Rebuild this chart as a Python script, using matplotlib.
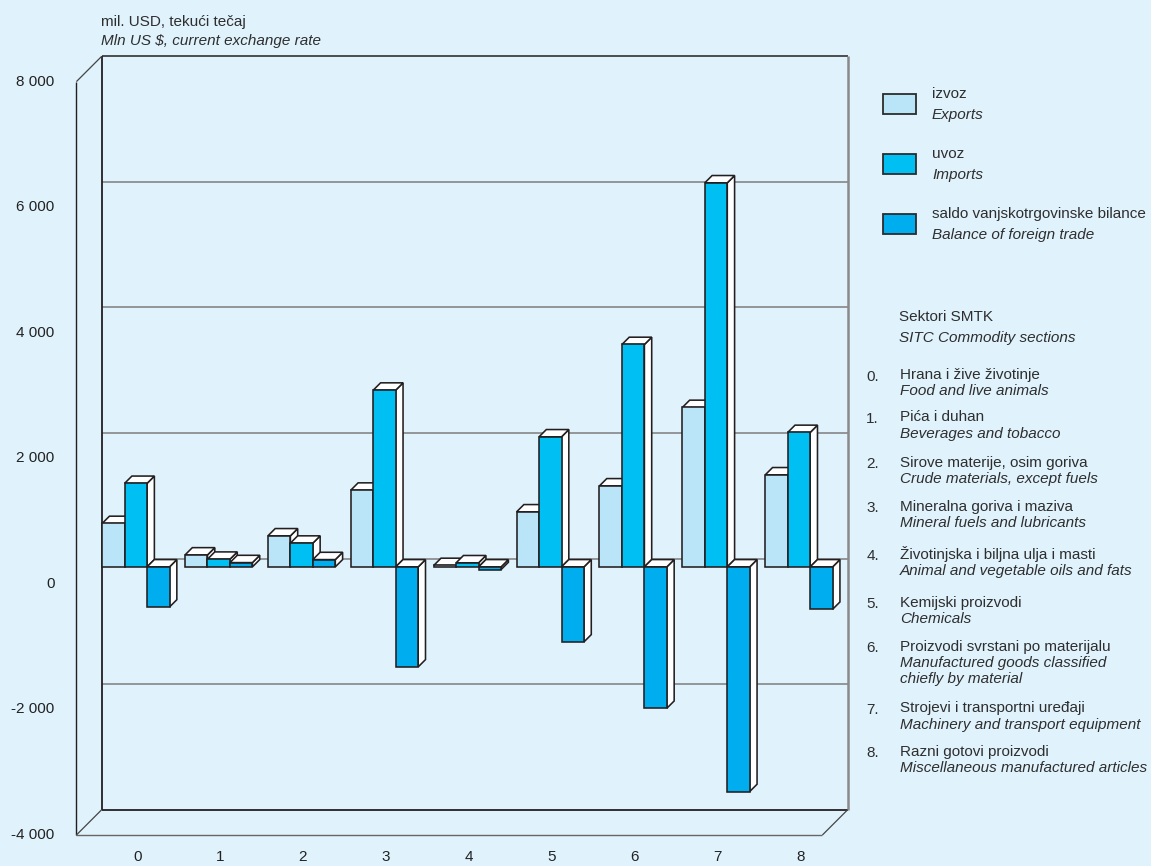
import matplotlib
matplotlib.use("Agg")
import matplotlib.pyplot as plt
from matplotlib.patches import Polygon, Rectangle

plt.rcParams['font.family'] = ['Liberation Sans', 'DejaVu Sans']

# data (mil. USD)
sections = ['0', '1', '2', '3', '4', '5', '6', '7', '8']
exports = [691, 190, 494, 1222, 22, 876, 1290, 2539, 1466]
imports = [1330, 122, 378, 2815, 65, 2071, 3542, 6117, 2141]
balance = [-639, 68, 116, -1593, -43, -1195, -2252, -3578, -675]
yticks = [8000, 6000, 4000, 2000, 0, -2000, -4000]
ytick_labels = ['8 000', '6 000', '4 000', '2 000', '0', '-2 000', '-4 000']
grid_vals = [6000, 4000, 2000, 0, -2000]

legend_hr = ['izvoz', 'uvoz', 'saldo vanjskotrgovinske bilance']
legend_en = ['Exports', 'Imports', 'Balance of foreign trade']
sector_hr = ['Hrana i žive životinje', 'Pića i duhan', 'Sirove materije, osim goriva',
             'Mineralna goriva i maziva', 'Životinjska i biljna ulja i masti',
             'Kemijski proizvodi', 'Proizvodi svrstani po materijalu',
             'Strojevi i transportni uređaji', 'Razni gotovi proizvodi']
sector_en = ['Food and live animals', 'Beverages and tobacco', 'Crude materials, except fuels',
             'Mineral fuels and lubricants', 'Animal and vegetable oils and fats',
             'Chemicals', 'Manufactured goods classified\nchiefly by material',
             'Machinery and transport equipment', 'Miscellaneous manufactured articles']

BG = '#e0f2fc'
colors = ['#bae4f8', '#00bff3', '#00aeef']
EDGE = '#231f20'
TXT = '#2e2e2e'
GRID = '#7d7d7d'
FS = 11

W, H = 1151, 866
def fx(px):
    return px / W
def fy(py):
    return 1 - py / H

fig = plt.figure(figsize=(W / 100, H / 100), dpi=100)
fig.patch.set_facecolor(BG)

# axes = back wall of the pseudo-3D box
ax = fig.add_axes([fx(101.7), fy(809.7), (847.7 - 101.7) / W, (809.7 - 56.3) / H])
ax.set_xlim(-0.5, 8.5)
ax.set_ylim(-4000, 8000)
ax.axis('off')

p0 = ax.transData.transform((0, 0))
p1 = ax.transData.transform((1, 1000))
sx = p1[0] - p0[0]
sy = (p1[1] - p0[1]) / 1000.0
def dx(px):
    return px / sx
def dy(px):
    return px / sy

BOX_D = 25.3     # depth of the box floor (px)
BAR_F = 8.3      # bar front face in front of back wall (px)
BAR_D = 7.3      # bar depth (px)
w = 0.271

x_l, x_r, y_b, y_t = -0.5, 8.5, -4000, 8000
kw = dict(clip_on=False, solid_capstyle='butt')

# back wall grid
for g in grid_vals:
    ax.plot([x_l, x_r], [g, g], color=GRID, lw=1.1, zorder=1, **kw)
ax.plot([x_l, x_r], [y_t, y_t], color=EDGE, lw=1.1, zorder=1, **kw)
ax.plot([x_l, x_l], [y_b, y_t], color=EDGE, lw=1.3, zorder=1, **kw)
ax.plot([x_l, x_r], [y_b, y_b], color=EDGE, lw=1.3, zorder=1, **kw)
ax.plot([x_r, x_r], [y_b, y_t], color='#8a8a8a', lw=1.8, zorder=1, **kw)

# side wall / floor edges
fdx, fdy = dx(BOX_D), dy(BOX_D)
ax.plot([x_l - fdx, x_l - fdx], [y_b - fdy, y_t - fdy], color=EDGE, lw=1.0, zorder=1, **kw)
ax.plot([x_l, x_l - fdx], [y_t, y_t - fdy], color='#444444', lw=0.9, zorder=1, **kw)
ax.plot([x_l, x_l - fdx], [y_b, y_b - fdy], color='#444444', lw=0.9, zorder=1, **kw)
ax.plot([x_r, x_r - fdx], [y_b, y_b - fdy], color='#444444', lw=0.9, zorder=1, **kw)
ax.plot([x_l - fdx, x_r - fdx], [y_b - fdy, y_b - fdy], color='#666666', lw=1.0, zorder=1, **kw)

# bars
bdx, bdy = dx(BAR_D), dy(BAR_D)
z = 2
for i in range(len(sections)):
    for k, vals in enumerate([exports, imports, balance]):
        v = vals[i]
        x0 = i - 1.5 * w + k * w - dx(BAR_F) + 0.012
        lo = min(0, v) - dy(BAR_F)
        hi = max(0, v) - dy(BAR_F)
        side = [(x0 + w, lo), (x0 + w + bdx, lo + bdy), (x0 + w + bdx, hi + bdy), (x0 + w, hi)]
        top = [(x0, hi), (x0 + bdx, hi + bdy), (x0 + w + bdx, hi + bdy), (x0 + w, hi)]
        ax.add_patch(Polygon(side, closed=True, facecolor='white', edgecolor=EDGE,
                             lw=1.15, zorder=z, clip_on=False))
        ax.add_patch(Polygon(top, closed=True, facecolor='white', edgecolor=EDGE,
                             lw=1.15, zorder=z, clip_on=False))
        ax.bar(x0, hi - lo, width=w, bottom=lo, align='edge', color=colors[k],
               edgecolor=EDGE, lw=1.15, zorder=z + 0.5, clip_on=False)
        z += 1

# y tick labels on the front plane
for v, lab in zip(yticks, ytick_labels):
    ax.text(x_l - fdx - dx(22), v - fdy, lab, ha='right', va='center',
            fontsize=FS, color='#222222', clip_on=False)

# x tick labels
for i, lab in enumerate(sections):
    ax.text(i - dx(6), y_b - dy(47), lab, ha='center', va='center',
            fontsize=FS, color='#222222', clip_on=False)

# unit title
fig.text(fx(101), fy(21.7), 'mil. USD, tekući tečaj', ha='left', va='center',
         fontsize=FS, color=TXT)
fig.text(fx(101), fy(40.7), 'Mln US $, current exchange rate', ha='left', va='center',
         fontsize=FS, color=TXT, style='italic')

# legend
leg_y = [94, 154, 214]
for k in range(3):
    top_px = leg_y[k]
    fig.add_artist(Rectangle((fx(883), fy(top_px + 20)), 33 / W, 20 / H,
                             transform=fig.transFigure, facecolor=colors[k],
                             edgecolor='#2b2b2b', lw=1.3))
    fig.text(fx(932), fy(top_px), legend_hr[k], ha='left', va='center',
             fontsize=FS, color=TXT)
    fig.text(fx(932), fy(top_px + 20.5), legend_en[k], ha='left', va='center',
             fontsize=FS, color=TXT, style='italic')

# sections list
fig.text(fx(899), fy(316.7), 'Sektori SMTK', ha='left', va='center', fontsize=FS, color=TXT)
fig.text(fx(899), fy(337.7), 'SITC Commodity sections', ha='left', va='center',
         fontsize=FS, color=TXT, style='italic')
sec_y = [375, 417.3, 462.7, 506.7, 554.3, 602.7, 646.7, 708.3, 751.7]
for i in range(len(sections)):
    yy = sec_y[i]
    fig.text(fx(872.5), fy(yy + 1.5), sections[i] + '.', ha='center', va='center',
             fontsize=FS, color=TXT)
    fig.text(fx(900), fy(yy), sector_hr[i], ha='left', va='center', fontsize=FS, color=TXT)
    fig.text(fx(900), fy(yy + 9.5), sector_en[i], ha='left', va='top', fontsize=FS,
             color=TXT, style='italic', linespacing=1.12)

fig.savefig('out.png', dpi=100, facecolor=BG)
